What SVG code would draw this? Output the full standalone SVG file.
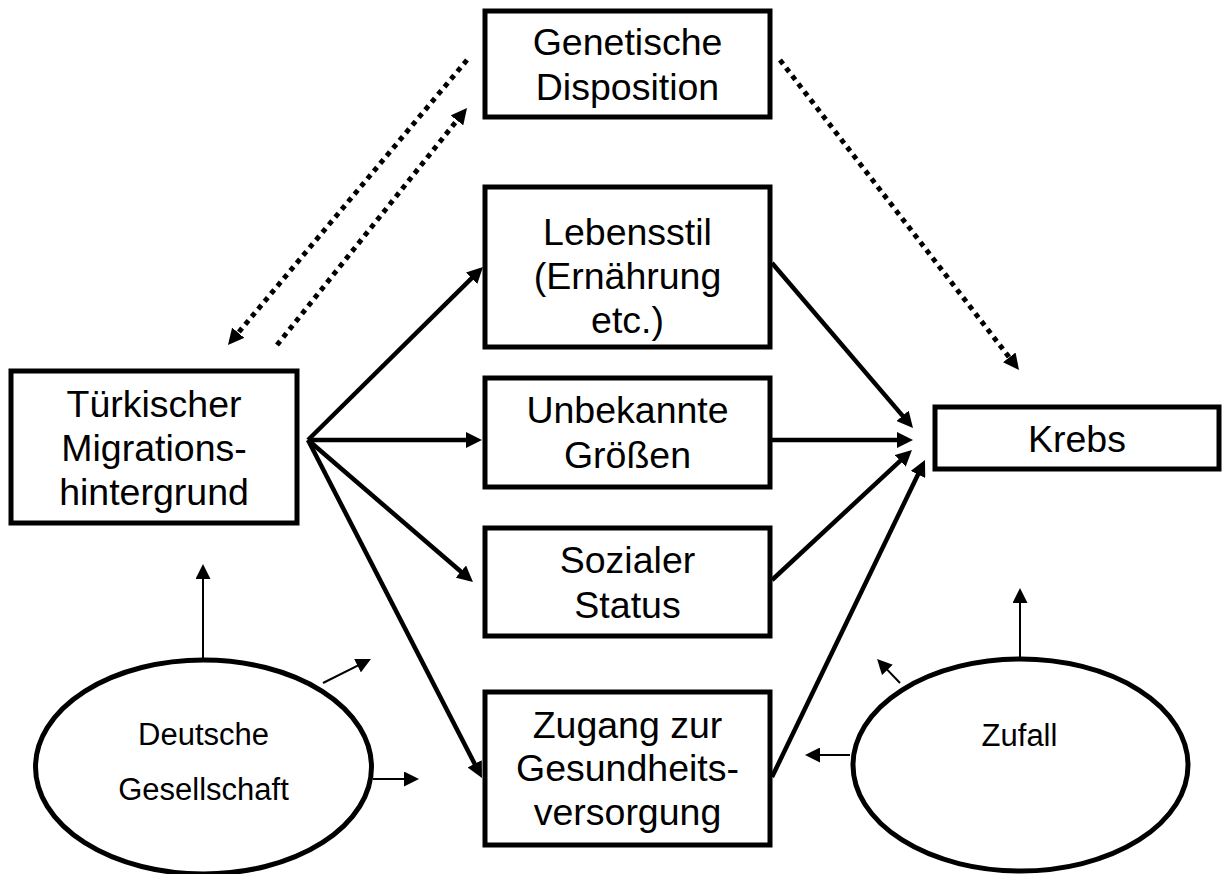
<svg xmlns="http://www.w3.org/2000/svg" width="1222" height="874" viewBox="0 0 1222 874">
  <style>
    .box { fill: #fff; stroke: #000; stroke-width: 5; }
    .oval { fill: #fff; stroke: #000; stroke-width: 5; }
    .lbl { font-family: "Liberation Sans", Arial, sans-serif; font-size: 37.5px; text-anchor: middle; fill: #000; }
    .small { font-family: "Liberation Sans", Arial, sans-serif; font-size: 31px; text-anchor: middle; fill: #000; }
    .thick { stroke: #000; stroke-width: 4.5; fill: none; marker-end: url(#headThick); }
    .dotted { stroke: #000; stroke-width: 5; stroke-dasharray: 5 5; fill: none; marker-end: url(#headThick); }
    .thin { stroke: #000; stroke-width: 2; fill: none; marker-end: url(#headThin); }
  </style>
  <defs>
    <marker id="headThick" viewBox="0 0 16 16" refX="8" refY="8" markerWidth="16" markerHeight="16" markerUnits="userSpaceOnUse" orient="auto">
      <path d="M0,0 L16,8 L0,16 z" fill="#000"/>
    </marker>
    <marker id="headThin" viewBox="0 0 15 15" refX="8" refY="7.5" markerWidth="15" markerHeight="15" markerUnits="userSpaceOnUse" orient="auto">
      <path d="M0,0 L15,7.5 L0,15 z" fill="#000"/>
    </marker>
  </defs>

  <rect width="1222" height="874" fill="#fff"/>

  <!-- connectors -->
  <g id="connectors">
    <!-- dotted links around the genetic disposition -->
    <line class="dotted" x1="467" y1="60" x2="233.1" y2="338.9"/>
    <line class="dotted" x1="277" y1="345" x2="462" y2="114.2"/>
    <line class="dotted" x1="780" y1="60" x2="1014.1" y2="363.7"/>

    <!-- fan out of the migration background -->
    <line class="thick" x1="308" y1="440" x2="477.3" y2="272.6"/>
    <line class="thick" x1="308" y1="440" x2="474" y2="440"/>
    <line class="thick" x1="308" y1="440" x2="466.9" y2="576.8"/>
    <line class="thick" x1="308" y1="440" x2="478.3" y2="770.9"/>

    <!-- converging on Krebs -->
    <line class="thick" x1="772" y1="263" x2="907.8" y2="421.9"/>
    <line class="thick" x1="772" y1="440" x2="905" y2="440"/>
    <line class="thick" x1="772" y1="580" x2="906.1" y2="455.4"/>
    <line class="thick" x1="772" y1="777" x2="921.5" y2="467.2"/>

    <!-- influences from the two ovals -->
    <line class="thin" x1="203" y1="658" x2="203" y2="571"/>
    <line class="thin" x1="323" y1="683" x2="364.7" y2="662.1"/>
    <line class="thin" x1="373" y1="779" x2="412" y2="779"/>
    <line class="thin" x1="1020" y1="658" x2="1020" y2="595"/>
    <line class="thin" x1="900" y1="683" x2="881.9" y2="664.1"/>
    <line class="thin" x1="850" y1="755" x2="812" y2="755"/>
  </g>

  <g id="genetik">
    <rect class="box" x="485" y="11" width="285" height="106"/>
    <text class="lbl" x="627.5" y="55">Genetische</text>
    <text class="lbl" x="627.5" y="100">Disposition</text>
  </g>

  <g id="lebensstil">
    <rect class="box" x="485" y="187" width="285" height="160"/>
    <text class="lbl" x="627.5" y="245">Lebensstil</text>
    <text class="lbl" x="627.5" y="289">(Ernährung</text>
    <text class="lbl" x="627.5" y="333">etc.)</text>
  </g>

  <g id="unbekannt">
    <rect class="box" x="485" y="378" width="285" height="109"/>
    <text class="lbl" x="627.5" y="423">Unbekannte</text>
    <text class="lbl" x="627.5" y="468">Größen</text>
  </g>

  <g id="sozial">
    <rect class="box" x="485" y="528" width="285" height="108"/>
    <text class="lbl" x="627.5" y="573">Sozialer</text>
    <text class="lbl" x="627.5" y="618">Status</text>
  </g>

  <g id="zugang">
    <rect class="box" x="485" y="692" width="285" height="153"/>
    <text class="lbl" x="627.5" y="738">Zugang zur</text>
    <text class="lbl" x="627.5" y="781">Gesundheits-</text>
    <text class="lbl" x="627.5" y="825">versorgung</text>
  </g>

  <g id="migration">
    <rect class="box" x="11" y="371" width="286" height="152"/>
    <text class="lbl" x="154" y="417">Türkischer</text>
    <text class="lbl" x="154" y="461">Migrations-</text>
    <text class="lbl" x="154" y="505">hintergrund</text>
  </g>

  <g id="krebs">
    <rect class="box" x="935" y="407" width="284" height="62"/>
    <text class="lbl" x="1077" y="452">Krebs</text>
  </g>

  <g id="gesellschaft">
    <ellipse class="oval" cx="203.5" cy="767" rx="168" ry="107"/>
    <text class="small" x="203.5" y="745">Deutsche</text>
    <text class="small" x="203.5" y="800">Gesellschaft</text>
  </g>

  <g id="zufall">
    <ellipse class="oval" cx="1020.5" cy="765" rx="167.5" ry="106"/>
    <text class="small" x="1019.5" y="746">Zufall</text>
  </g>
</svg>
